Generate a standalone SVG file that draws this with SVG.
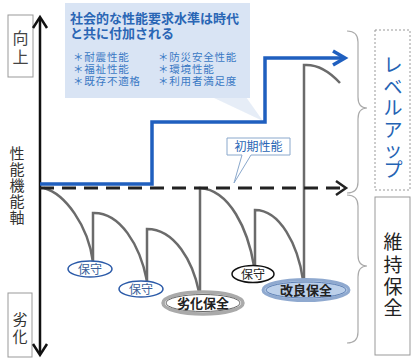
<svg xmlns="http://www.w3.org/2000/svg" width="412" height="358" viewBox="0 0 412 358">
<style>
.jp{font-family:"Noto Sans CJK JP","Noto Sans",sans-serif}
.curve{fill:none;stroke:#6b6b6b;stroke-width:2.5}
.lbl{stroke:#999;stroke-width:1;fill:#fff}
.brace{fill:none;stroke:#aaa;stroke-width:1.2}
.hosyu{fill:#fff;stroke:#2b5aa8;stroke-width:1.5}
</style>
<rect width="412" height="358" fill="#fff"/>

<g id="callout-society">
<polygon points="212,97 246,97 263,121" fill="#dce6f4" opacity="0.7"/>
<rect x="65" y="3" width="185" height="95" fill="#d9e4f4"/>
<text class="jp" x="70" y="23" font-size="13" font-weight="bold" fill="#2a66b5">社会的な性能要求水準は時代</text>
<text class="jp" x="70" y="38" font-size="13" font-weight="bold" fill="#2a66b5">と共に付加される</text>
<g class="jp" font-size="10.5" fill="#3b79c4" letter-spacing="0.8">
<text x="73" y="61">＊耐震性能</text>
<text x="73" y="73">＊福祉性能</text>
<text x="73" y="85">＊既存不適格</text>
<text x="158" y="61">＊防災安全性能</text>
<text x="158" y="73">＊環境性能</text>
<text x="158" y="85">＊利用者満足度</text>
</g>
</g>

<g id="label-up">
<rect class="lbl" x="8" y="15" width="25" height="62"/>
<text class="jp" font-size="16" fill="#444" text-anchor="middle" x="20.5" y="44">向</text>
<text class="jp" font-size="16" fill="#444" text-anchor="middle" x="20.5" y="63">上</text>
</g>

<g id="label-axis" class="jp" font-size="15" fill="#333" text-anchor="middle">
<text x="17" y="159">性</text>
<text x="17" y="175">能</text>
<text x="17" y="191">機</text>
<text x="17" y="207">能</text>
<text x="17" y="223">軸</text>
</g>

<g id="label-down">
<rect class="lbl" x="8" y="293" width="24" height="64"/>
<text class="jp" font-size="15" fill="#333" text-anchor="middle" x="20" y="325">劣</text>
<text class="jp" font-size="15" fill="#333" text-anchor="middle" x="20" y="342">化</text>
</g>

<g id="connectors">
<line x1="40" y1="18" x2="40" y2="354" stroke="#111" stroke-width="2.5"/>
<polyline points="33,28 40,17 47,28" fill="none" stroke="#111" stroke-width="2.5"/>
<polyline points="33,344 40,355 47,344" fill="none" stroke="#111" stroke-width="2.5"/>
<path class="curve" d="M44 188 C65 194 88 225 93 262"/>
<path class="curve" d="M93 262 V213 C120 212 140 245 147 281"/>
<path class="curve" d="M147 281 V229 C175 229 193 262 199 292"/>
<path class="curve" d="M200 292 V188 C230 190 248 230 254 266"/>
<path class="curve" d="M255 266 V210 C280 210 298 245 303 280"/>
<path class="curve" d="M304 280 V65 C318 64 330 72 340 83"/>
<line x1="40" y1="188" x2="344" y2="188" stroke="#222" stroke-width="3" stroke-dasharray="14 8"/>
<polyline points="336,181 346,188 336,195" fill="none" stroke="#222" stroke-width="2.5"/>
<path d="M40 184 H152 V122 H265 V58 H342" fill="none" stroke="#1f5fbf" stroke-width="3.5"/>
<polyline points="333,51 345,58 333,65" fill="none" stroke="#1f5fbf" stroke-width="3.5"/>
<path class="brace" d="M347 31 Q358 31 358 42 L358 97 Q358 108 367 108 Q358 108 358 119 L358 182 Q358 193 347 193"/>
<path class="brace" d="M347 195 Q358 195 358 206 L358 255 Q358 266 367 266 Q358 266 358 277 L358 332 Q358 343 347 343"/>
</g>

<g id="callout-initial">
<path d="M227 138 H290 V155 H251 L234 183 L242 155 H227 Z" fill="#fff" stroke="#8aa8cc" stroke-width="1"/>
<text class="jp" x="258.5" y="151" font-size="12" fill="#2a66b5" text-anchor="middle">初期性能</text>
</g>

<g id="node-hosyu1">
<ellipse class="hosyu" cx="90" cy="269" rx="22" ry="8"/>
<text class="jp" x="90" y="273.5" font-size="12" fill="#3a5f9a" text-anchor="middle">保守</text>
</g>
<g id="node-hosyu2">
<ellipse class="hosyu" cx="141" cy="289" rx="22" ry="8"/>
<text class="jp" x="141" y="293.5" font-size="12" fill="#3a5f9a" text-anchor="middle">保守</text>
</g>
<g id="node-rekka">
<ellipse cx="203" cy="303" rx="40" ry="11" fill="#fff" stroke="#aaa" stroke-width="3.5"/>
<ellipse cx="203" cy="303" rx="37" ry="8.5" fill="#fff" stroke="#666" stroke-width="1"/>
<text class="jp" x="203" y="308" font-size="13" font-weight="bold" fill="#222" text-anchor="middle">劣化保全</text>
</g>
<g id="node-hosyu3">
<ellipse cx="253" cy="274" rx="21" ry="8.5" fill="#fff" stroke="#111" stroke-width="1.5"/>
<text class="jp" x="253" y="278.5" font-size="12" fill="#222" text-anchor="middle">保守</text>
</g>
<g id="node-kairyo">
<ellipse cx="306" cy="290" rx="43" ry="10.5" fill="#bcd0ea" stroke="#8fa9cf" stroke-width="3"/>
<ellipse cx="306" cy="290" rx="40" ry="8" fill="none" stroke="#5d7fb3" stroke-width="1"/>
<text class="jp" x="306" y="295" font-size="13" font-weight="bold" fill="#222" text-anchor="middle">改良保全</text>
</g>

<g id="label-levelup">
<rect x="375" y="30" width="35" height="160" fill="none" stroke="#999" stroke-width="1" stroke-dasharray="2 2"/>
<g class="jp" font-size="19" fill="#2463b4" text-anchor="middle">
<text x="393" y="72">レ</text>
<text x="393" y="94">ベ</text>
<text x="393" y="115">ル</text>
<text x="393" y="137">ア</text>
<text x="393" y="157">ッ</text>
<text x="393" y="177">プ</text>
</g>
</g>

<g id="label-maintain">
<rect x="375" y="197" width="35" height="158" fill="none" stroke="#999" stroke-width="1"/>
<g class="jp" font-size="19" fill="#222" text-anchor="middle">
<text x="393" y="249">維</text>
<text x="393" y="272">持</text>
<text x="393" y="294">保</text>
<text x="393" y="315">全</text>
</g>
</g>
</svg>
